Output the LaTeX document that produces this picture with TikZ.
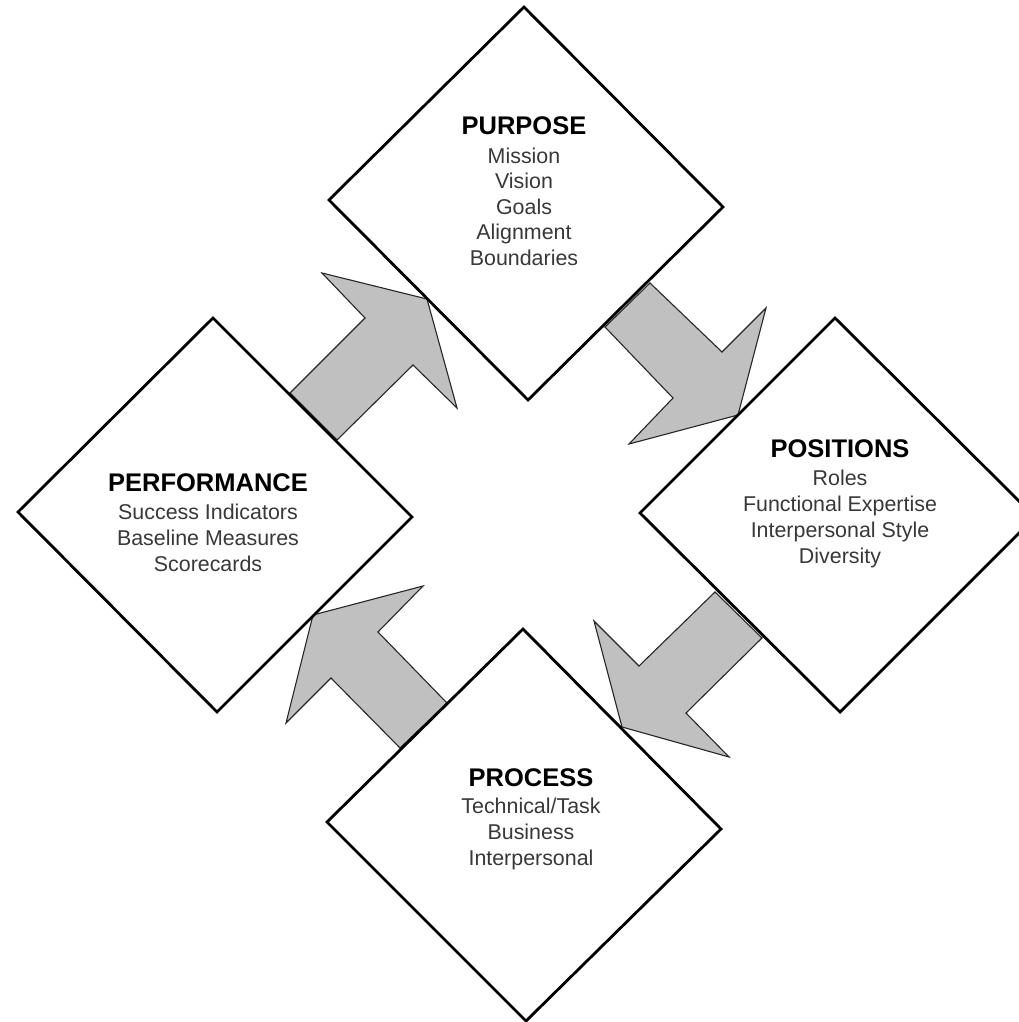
\documentclass[tikz,border=0pt]{standalone}
\usepackage{fontspec}
\setmainfont{Liberation Sans}
\definecolor{arrowgray}{HTML}{C0C0C0}
\definecolor{itemgray}{HTML}{383838}
\begin{document}
\begin{tikzpicture}[x=1pt,y=-1pt,
  box/.style={draw=black, line width=2.8pt, fill=white, line join=miter},
  blockarrow/.style={draw=black!85, line width=1.1pt, fill=arrowgray, line join=miter},
  title/.style={anchor=base, inner sep=0pt, font=\fontsize{25.5}{30}\selectfont\bfseries, text=black},
  item/.style={anchor=base, inner sep=0pt, font=\fontsize{21.4}{26}\selectfont, text=itemgray}]
\useasboundingbox (0,0) rectangle (1019,1022);
\clip (0,0) rectangle (1019,1022);

% diamond corners
\coordinate (pu-t) at (524,7);   \coordinate (pu-r) at (723,207);
\coordinate (pu-b) at (528,400); \coordinate (pu-l) at (329,200);
\coordinate (po-t) at (835,318); \coordinate (po-r) at (1035,517);
\coordinate (po-b) at (840,712); \coordinate (po-l) at (640,513);
\coordinate (pr-t) at (523,629); \coordinate (pr-r) at (721,829);
\coordinate (pr-b) at (526,1021); \coordinate (pr-l) at (327,822);
\coordinate (pf-t) at (213,318); \coordinate (pf-r) at (412,517);
\coordinate (pf-b) at (217,712); \coordinate (pf-l) at (18,512);

% block arrows
\draw[blockarrow] (290,393) -- (365,318) -- (322,273) -- (427,299) -- (457,408) -- (413,365) -- (337,440) -- cycle;
\draw[blockarrow] (650,283) -- (722,352) -- (766,308) -- (738,415) -- (629,444) -- (673,398) -- (605,327) -- cycle;
\draw[blockarrow] (715,592) -- (639,666) -- (594,621) -- (622,727) -- (729,757) -- (686,713) -- (762,638) -- cycle;
\draw[blockarrow] (447,703) -- (378,632) -- (423,586) -- (313,615) -- (286,723) -- (331,678) -- (400,748) -- cycle;

% diamonds
\draw[box] (pu-t) -- (pu-r) -- (pu-b) -- (pu-l) -- cycle;
\draw[box] (po-t) -- (po-r) -- (po-b) -- (po-l) -- cycle;
\draw[box] (pr-t) -- (pr-r) -- (pr-b) -- (pr-l) -- cycle;
\draw[box] (pf-t) -- (pf-r) -- (pf-b) -- (pf-l) -- cycle;

% texts
\node[title] (purpose) at (524,135) {PURPOSE};
\foreach \t [count=\i] in {Mission,Vision,Goals,Alignment,Boundaries}
  \node[item] (purpose-\i) at (524,{135+28+(\i-1)*25.6}) {\t};

\node[title] (positions) at (840,457) {POSITIONS};
\foreach \t [count=\i] in {Roles,Functional Expertise,Interpersonal Style,Diversity}
  \node[item] (positions-\i) at (840,{457+28+(\i-1)*26}) {\t};

\node[title] (process) at (531,786) {PROCESS};
\foreach \t [count=\i] in {Technical/Task,Business,Interpersonal}
  \node[item] (process-\i) at (531,{786+27+(\i-1)*26}) {\t};

\node[title] (performance) at (208,491) {PERFORMANCE};
\foreach \t [count=\i] in {Success Indicators,Baseline Measures,Scorecards}
  \node[item] (performance-\i) at (208,{491+28+(\i-1)*26}) {\t};
\end{tikzpicture}
\end{document}
